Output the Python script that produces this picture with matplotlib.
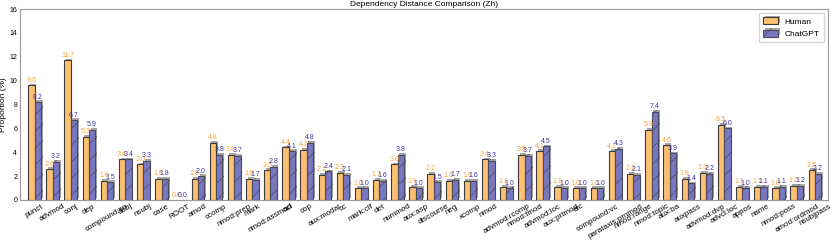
import matplotlib
matplotlib.use("Agg")
import matplotlib.pyplot as plt
import matplotlib.patheffects as pe
import numpy as np

plt.rcParams['font.family'] = ['Liberation Sans', 'DejaVu Sans']

categories = ["punct", "advmod", "conj", "dep", "compound:nn", "dobj", "nsubj", "case", "ROOT",
              "amod", "ccomp", "nmod:prep", "mark", "nmod:assmod", "acl", "cop", "aux:modal", "cc",
              "mark:clf", "det", "nummod", "aux:asp", "discourse", "neg", "xcomp", "nmod",
              "advmod:rcomp", "nmod:tmod", "advmod:loc", "aux:prtmod", "etc", "compound:vc",
              "parataxis:prnmod", "nmod:range", "nmod:topic", "aux:ba", "auxpass", "advmod:dvp",
              "advcl:loc", "appos", "name", "nmod:poss", "amod:ordmod", "nsubjpass"]
human = [9.6, 2.6, 11.7, 5.3, 1.6, 3.4, 3.0, 1.8, 0.0, 1.8, 4.8, 3.8, 1.8, 2.5, 4.4, 4.2, 2.1, 2.3,
         1.0, 1.7, 3.0, 1.1, 2.2, 1.6, 1.6, 3.4, 1.1, 3.8, 4.1, 1.1, 1.0, 1.0, 4.1, 2.2, 5.9, 4.6,
         1.8, 2.3, 6.3, 1.1, 1.1, 1.0, 1.2, 2.5]
chatgpt = [8.2, 3.2, 6.7, 5.9, 1.5, 3.4, 3.3, 1.8, 0.0, 2.0, 3.8, 3.7, 1.7, 2.8, 4.1, 4.8, 2.4, 2.1,
           1.0, 1.6, 3.8, 1.0, 1.5, 1.7, 1.6, 3.3, 1.0, 3.7, 4.5, 1.0, 1.0, 1.0, 4.3, 2.1, 7.4, 3.9,
           1.4, 2.2, 6.0, 1.0, 1.1, 1.1, 1.2, 2.2]

plt.rcParams['hatch.linewidth'] = 0.5

fig = plt.figure(figsize=(8.31, 2.4), dpi=100)
ax = fig.add_axes([20/831, 1 - 200/240, 808/831, 191/240])

x = np.arange(len(categories))
w = 0.35
shadow = [pe.SimplePatchShadow(offset=(1.2, 1.2), shadow_rgbFace='gray', alpha=0.7), pe.Normal()]

ax.bar(x - w/2, human, w, color='#ffbf72', edgecolor='#3a3a3a', linewidth=0.8,
       label='Human', path_effects=shadow, zorder=2)
ax.bar(x + w/2, chatgpt, w, color='#7878c2', edgecolor='#4a4a5a', linewidth=0.8,
       hatch='//', label='ChatGPT', path_effects=shadow, zorder=2)

for xi, v in zip(x, human):
    ax.text(xi - w/2, v + 0.12, f"{v:.1f}", ha='center', va='bottom', fontsize=5, color='#ffa033')
for xi, v in zip(x, chatgpt):
    ax.text(xi + w/2, v + 0.12, f"{v:.1f}", ha='center', va='bottom', fontsize=5, color='#3535a8')

ax.set_xlim(-0.8, 43.72)
ax.set_ylim(0, 16)
ax.set_yticks(np.arange(0, 17, 2))
ax.set_xticks(x)
ax.set_xticklabels(categories, rotation=30, ha='center', fontsize=5.8)
ax.tick_params(axis='y', labelsize=5)
ax.tick_params(axis='both', length=0, pad=2)
ax.set_ylabel('Proportion (%)', fontsize=6, labelpad=2)
ax.set_title('Dependency Distance Comparison (Zh)', fontsize=6, pad=2)
for s in ax.spines.values():
    s.set_color('#999999')
    s.set_linewidth(0.8)
ax.legend(loc='upper right', fontsize=6, frameon=True, fancybox=False, edgecolor='#cccccc',
          handlelength=1.8, handleheight=0.9, borderpad=0.5)

fig.savefig('out.png', dpi=100)
